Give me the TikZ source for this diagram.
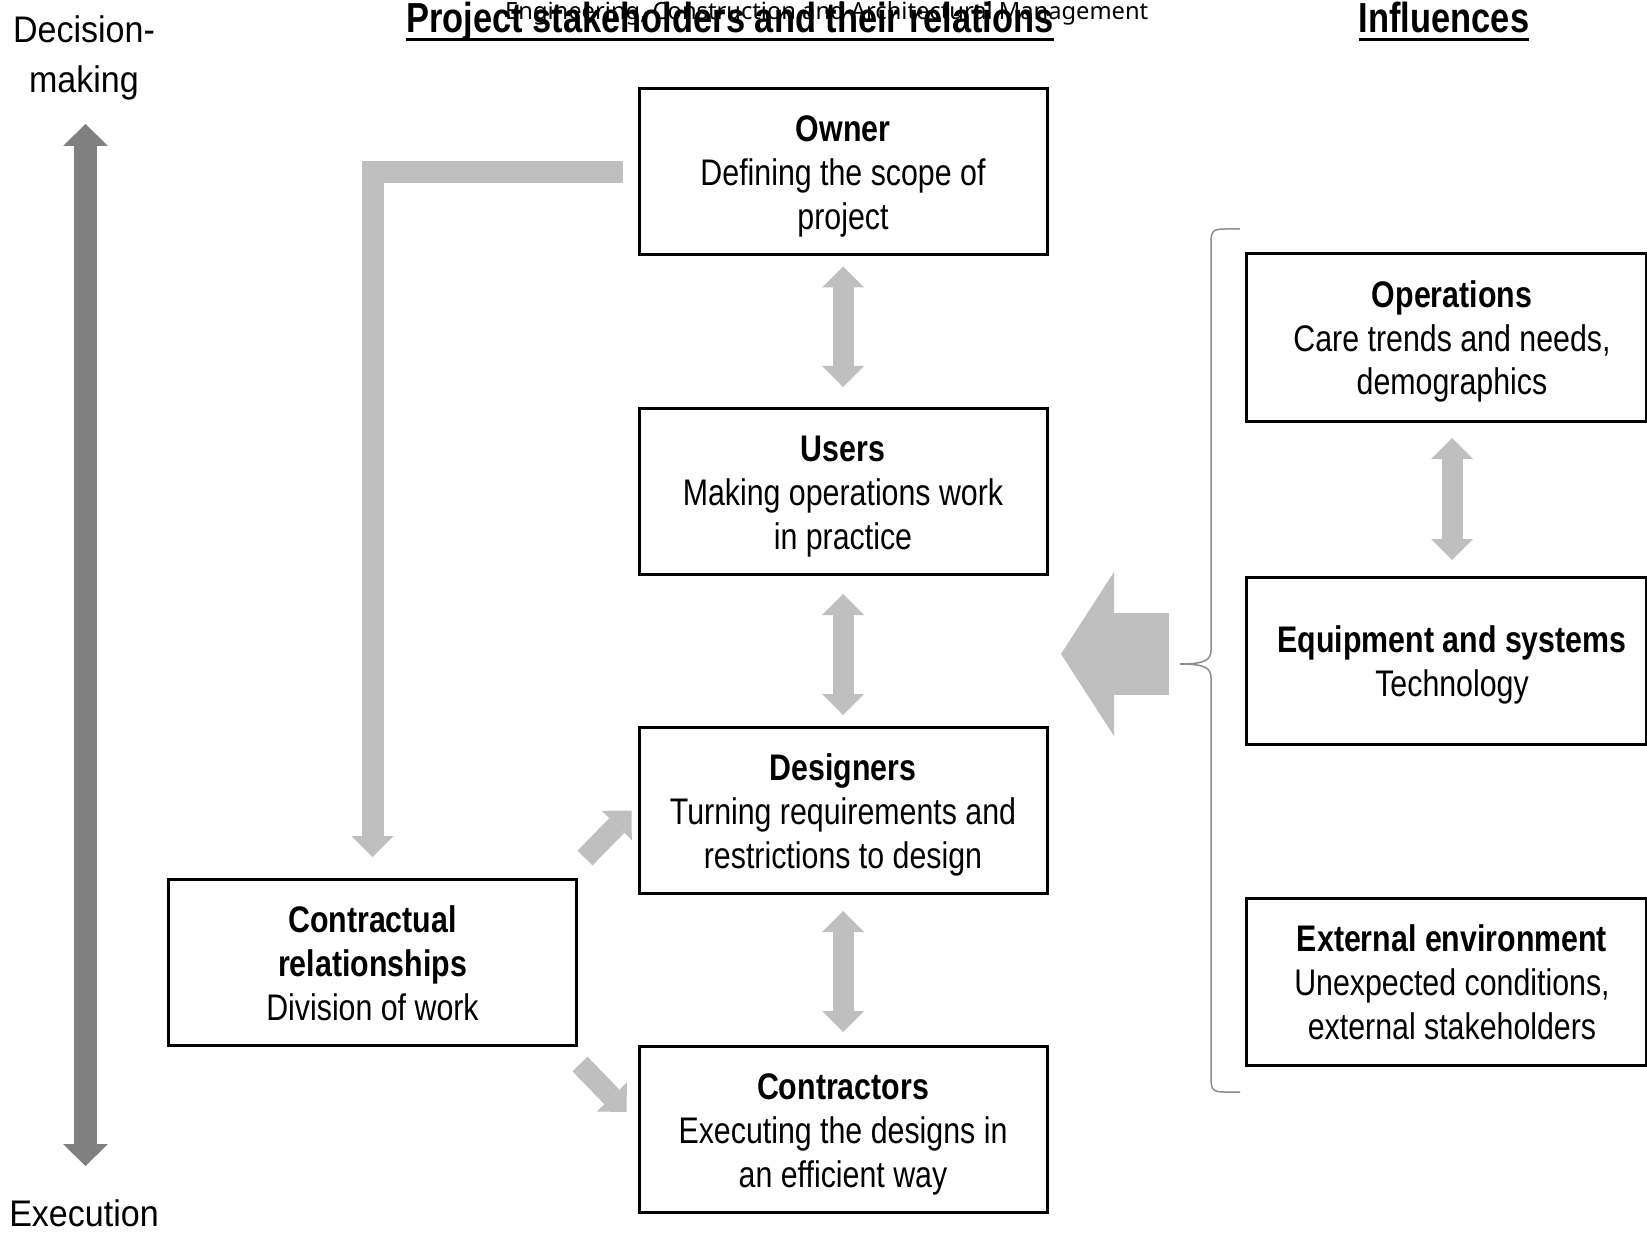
\documentclass[tikz,border=0pt]{standalone}
\usepackage{fontspec}
\setmainfont[FakeStretch=0.82]{Liberation Sans}
\newfontfamily\sidefont[FakeStretch=0.92]{Liberation Sans}
\newfontfamily\hdrfont{Noto Sans}
\usetikzlibrary{arrows.meta,calc}
\definecolor{lg}{HTML}{BFBFBF}
\definecolor{dg}{HTML}{808080}
\definecolor{bracegray}{HTML}{8C8C8C}
\newcommand{\ts}{\rule{0pt}{37pt}}
\newcommand{\bs}{\rule[-10pt]{0pt}{10pt}}
\begin{document}
\begin{tikzpicture}[x=1pt,y=-1pt,
  box/.style={draw, line width=3pt, minimum width=408pt, minimum height=166pt, inner sep=0pt, align=center, font=\fontsize{37}{44}\selectfont},
  rbox/.style={box, draw=none, outer sep=0pt, minimum width=412pt, minimum height=167pt},
  frame/.style={draw, line width=3pt},
  fattip/.tip={Triangle[width=42pt,length=21pt,line width=0pt]},
  fat/.style={lg, line width=21pt, -fattip},
  fatdbl/.style={lg, line width=21pt, fattip-fattip},
  sidelbl/.style={font=\sidefont\fontsize{37}{50}\selectfont, inner sep=0pt, align=center},
  ttl/.style={font=\bfseries\fontsize{42}{50}\selectfont, anchor=base, inner sep=0pt},
  uline/.style={line width=3.5pt}
]
\useasboundingbox (0,0) rectangle (1647,1233);

% central boxes
\node[box] (owner) at (843,172) {\ts\textbf{Owner}\\Defining the scope of\\project\bs};
\node[box] (users) at (843,491.5) {\ts\textbf{Users}\\Making operations work\\in practice\bs};
\node[box] (des) at (843,810.5) {\ts\textbf{Designers}\\Turning requirements and\\restrictions to design\bs};
\node[box] (con) at (843,1129.5) {\ts\textbf{Contractors}\\Executing the designs in\\an efficient way\bs};
\node[box] (ctr) at (372.5,962.5) {\ts\textbf{Contractual}\\\textbf{relationships}\\Division of work\bs};

% right boxes (text centred slightly right of the frame centre)
\node[rbox] (ops) at (1452,337.5) {\ts\textbf{Operations}\\Care trends and needs,\\demographics\bs};
\node[rbox] (eq) at (1452,660.5) {\ts\textbf{Equipment and systems}\\Technology\bs};
\node[rbox] (ext) at (1452,981.5) {\ts\textbf{External environment}\\Unexpected conditions,\\external stakeholders\bs};
\foreach \n in {ops,eq,ext}
  \draw[frame] (\n.north west) rectangle ([xshift=-12pt]\n.south east);

% double arrows
\draw[fatdbl] ([yshift=-10pt]owner.south) -- ([yshift=20pt]users.north);
\draw[fatdbl] ([yshift=-18pt]users.south) -- ([yshift=11pt]des.north);
\draw[fatdbl] ([yshift=-16pt]des.south) -- ([yshift=13pt]con.north);
\draw[fatdbl] ([yshift=-17pt]ops.south) -- ([yshift=17pt]eq.north);

% L-shaped arrow owner -> contractual
\draw[fat, line width=22pt, line join=miter] ([xshift=-15pt]owner.west) -| ([yshift=21pt]ctr.north);

% diagonal arrows
\draw[fat] ($(ctr.north east)+(7,-20)$) -- ($(des.west)+(-6,0)$);
\draw[fat] ($(ctr.south east)+(2,17)$) -- ($(con.west)+(-11,-17.5)$);

% brace and big arrow
\coordinate (bt) at (1180,664);
\draw[bracegray, line width=1.5pt] (1240,229) -- (1225,229) .. controls (1213,229) and (1211,231) .. (1211,243) -- (1211,650) .. controls (1211,660) and (1205,664) .. (bt) .. controls (1205,664) and (1211,668) .. (1211,678) -- (1211,1078) .. controls (1211,1090) and (1213,1092) .. (1225,1092) -- (1240,1092);
\draw[lg, line width=82pt, -{Triangle[width=164pt,length=53pt,line width=0pt]}] ($(bt)+(-11,-10)$) -- ($(bt)+(-119,-10)$);

% decision-making axis
\node[sidelbl] (dm) at (84,57.5) {Decision-\\making};
\node[sidelbl, anchor=base] (ex) at (84,1226) {Execution};
\coordinate (dtop) at (85.5,124);
\coordinate (dbot) at (85.5,1166);
\draw[dg, line width=23pt, {Triangle[width=45pt,length=22pt,line width=0pt]}-{Triangle[width=45pt,length=22pt,line width=0pt]}] (dtop) -- (dbot);

% titles
\node[ttl] (title) at (730,33) {Project stakeholders and their relations};
\draw[uline] ([yshift=-6.5pt]title.base west) -- ([yshift=-6.5pt]title.base east);
\node[ttl] (infl) at (1444,33) {Influences};
\draw[uline] ([yshift=-6.5pt]infl.base west) -- ([yshift=-6.5pt]infl.base east);
\node[font=\hdrfont\fontsize{23.7}{28}\selectfont, anchor=base west, inner sep=0pt] (hdr) at (505,20) {Engineering, Construction and Architectural Management};
\end{tikzpicture}
\end{document}
